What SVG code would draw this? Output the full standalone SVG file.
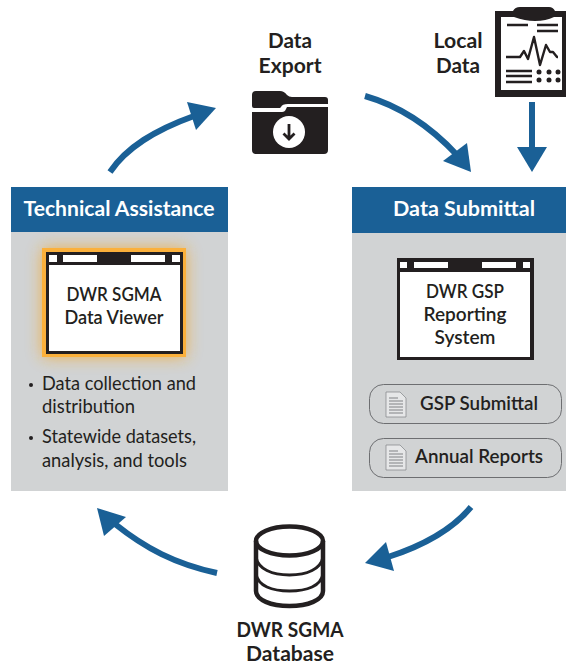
<svg xmlns="http://www.w3.org/2000/svg" width="566" height="665" viewBox="0 0 566 665">
<style>
text{font-family:Lato,"Open Sans","Liberation Sans",sans-serif;fill:#231f20}
.b{font-weight:700;font-size:20px;text-anchor:middle}
.s{font-weight:600;font-size:19px;text-anchor:middle}
.h{font-weight:700;font-size:21px;text-anchor:middle;fill:#fff}
.l{font-size:19px}
.conn{fill:none;stroke:#1a6096;stroke-width:6}
.head{fill:#1a6096}
.panel{fill:#d1d3d4}
.hdr{fill:#1a6096}
.k{fill:#231f20}
.w{fill:#fff}
.pill{fill:none;stroke:#6d6e71;stroke-width:1}
.doc{fill:#e6e7e8;stroke:#808285;stroke-width:.7}
.dl{stroke:#808285;stroke-width:1;fill:none}
.c{fill:none;stroke:#231f20;stroke-width:4.500}
.c2{fill:none;stroke:#231f20;stroke-width:3}
.ln{stroke:#231f20;stroke-width:2.400;fill:none}
</style>
<defs>
<filter id="glow" x="-30%" y="-30%" width="160%" height="160%"><feGaussianBlur stdDeviation="8"/></filter>
<g id="doc"><path class="doc" d="M0 0H14L20 6V25H0Z"/><path class="dl" d="M3 6H12M3 9H17M3 12H17M3 15H17M3 18H17M3 21H17"/></g>
</defs>
<rect width="566" height="665" fill="#fff"/>

<g id="technical-assistance">
<rect class="panel" x="11" y="232" width="217" height="259"/>
<rect class="hdr" x="11" y="187" width="217" height="45"/>
<text class="h" x="119" y="216" textLength="191" lengthAdjust="spacingAndGlyphs">Technical Assistance</text>
<text class="l" x="42" y="390" textLength="154" lengthAdjust="spacingAndGlyphs">Data collection and</text>
<text class="l" x="42" y="413" textLength="93" lengthAdjust="spacingAndGlyphs">distribution</text>
<text class="l" x="42" y="443" textLength="154" lengthAdjust="spacingAndGlyphs">Statewide datasets,</text>
<text class="l" x="42" y="467" textLength="145" lengthAdjust="spacingAndGlyphs">analysis, and tools</text>
<circle class="k" cx="31" cy="385" r="2"/>
<circle class="k" cx="31" cy="438" r="2"/>
</g>

<g id="data-viewer">
<rect x="42" y="248" width="144" height="109" fill="#f5a623" opacity=".75" filter="url(#glow)"/>
<rect x="42" y="248" width="144" height="109" fill="#fbb03b"/>
<rect class="k" x="46" y="252" width="137" height="102"/>
<rect class="w" x="49" y="265" width="131" height="86"/>
<rect class="w" x="49" y="255" width="8" height="7"/>
<rect class="w" x="63" y="255" width="34" height="7"/>
<rect class="w" x="131" y="255" width="34" height="7"/>
<rect class="w" x="172" y="255" width="8" height="7"/>
<text class="s" x="114" y="301" textLength="95" lengthAdjust="spacingAndGlyphs">DWR SGMA</text>
<text class="s" x="114" y="324" textLength="99" lengthAdjust="spacingAndGlyphs">Data Viewer</text>
</g>

<g id="data-submittal">
<rect class="panel" x="352" y="232" width="214" height="259"/>
<rect class="hdr" x="352" y="187" width="214" height="46"/>
<text class="h" x="464" y="216" textLength="142" lengthAdjust="spacingAndGlyphs">Data Submittal</text>
</g>

<g id="gsp-reporting-system">
<rect class="k" x="397" y="258" width="137" height="102"/>
<rect class="w" x="400" y="272" width="130" height="85"/>
<rect class="w" x="400" y="262" width="7" height="6"/>
<rect class="w" x="414" y="262" width="34" height="6"/>
<rect class="w" x="482" y="262" width="34" height="6"/>
<rect class="w" x="523" y="262" width="7" height="6"/>
<text class="s" x="465" y="298" textLength="78" lengthAdjust="spacingAndGlyphs">DWR GSP</text>
<text class="s" x="465" y="321" textLength="83" lengthAdjust="spacingAndGlyphs">Reporting</text>
<text class="s" x="465" y="344" textLength="61" lengthAdjust="spacingAndGlyphs">System</text>
</g>

<g id="gsp-submittal">
<rect class="pill" x="369.500" y="384.500" width="192" height="39" rx="14"/>
<use href="#doc" x="386" y="392"/>
<text class="s" x="479" y="410" textLength="118" lengthAdjust="spacingAndGlyphs">GSP Submittal</text>
</g>

<g id="annual-reports">
<rect class="pill" x="369.500" y="438.500" width="192" height="39" rx="14"/>
<use href="#doc" x="386" y="445"/>
<text class="s" x="479" y="463" textLength="128" lengthAdjust="spacingAndGlyphs">Annual Reports</text>
</g>

<g id="data-export">
<text class="b" x="290" y="48" textLength="44" lengthAdjust="spacingAndGlyphs">Data</text>
<text class="b" x="290" y="73" textLength="63" lengthAdjust="spacingAndGlyphs">Export</text>
<path class="k" d="M252 106V95Q252 91 256 91H280Q284 91 287 95Q289 97 292 97H325Q328 97 328 100V104H288Q282 104 281 107L280 108H254Q252 108 252 106Z"/>
<path class="k" d="M252 112H282Q285 112 286 109L287 107H328V150Q328 154 324 154H256Q252 154 252 150Z"/>
<circle class="w" cx="289" cy="132" r="16"/>
<path d="M289 124V139M283.500 133.500L289 139L294.500 133.500" fill="none" stroke="#231f20" stroke-width="2.800"/>
</g>

<g id="local-data">
<text class="b" x="458" y="48" textLength="49" lengthAdjust="spacingAndGlyphs">Local</text>
<text class="b" x="458" y="73" textLength="44" lengthAdjust="spacingAndGlyphs">Data</text>
<path class="k" d="M495 11H513Q515 7 520 7H549Q553 7 555 11H567V97H495Z"/>
<path class="w" d="M501 17H514Q525 21 535 21Q546 21 554 17H562V90H501Z"/>
<path class="ln" d="M507 25H528M537 25H558M537 31H558"/>
<path class="ln" d="M506 57H520L524 51L528 59L534 37L540 65L546 45L550 52L553 52L557 57H558" stroke-width="2" stroke-linejoin="round"/>
<path class="ln" d="M506 71H532M506 76H532M506 82H532"/>
<g class="k"><circle cx="539" cy="72" r="2.500"/><circle cx="549" cy="72" r="2.500"/><circle cx="558" cy="72" r="2.500"/><circle cx="539" cy="80" r="2.500"/><circle cx="549" cy="80" r="2.500"/><circle cx="558" cy="80" r="2.500"/></g>
</g>

<g id="sgma-database">
<ellipse class="c" cx="289.500" cy="541" rx="33.500" ry="14.500"/>
<path class="c" d="M256 541V591C256 600 271 606 289.500 606C308 606 323 600 323 591V541"/>
<path class="c2" d="M256 557C258 569 272 575 289.500 575C307 575 321 569 323 557M256 574C258 586 272 591 289.500 591C307 591 321 586 323 574"/>
<text class="b" x="290" y="637" textLength="107" lengthAdjust="spacingAndGlyphs">DWR SGMA</text>
<text class="b" x="290" y="661" textLength="88" lengthAdjust="spacingAndGlyphs">Database</text>
</g>

<g id="connectors">
<path class="conn" d="M110 172C127 147 155 130 194 116"/>
<polygon class="head" points="216,108 187,102 196,130"/>
<path class="conn" d="M365 96C400 106 430 126 457 155"/>
<polygon class="head" points="471,172 467,143 443,161"/>
<path class="conn" d="M532 102V150"/>
<polygon class="head" points="532,172 517,147 547,147"/>
<path class="conn" d="M471 507C452 530 425 545 388 557"/>
<polygon class="head" points="365,563 386,542 394,571"/>
<path class="conn" d="M217 573C175 564 145 548 115 524"/>
<polygon class="head" points="97,508 126,517 104,536"/>
</g>
</svg>
